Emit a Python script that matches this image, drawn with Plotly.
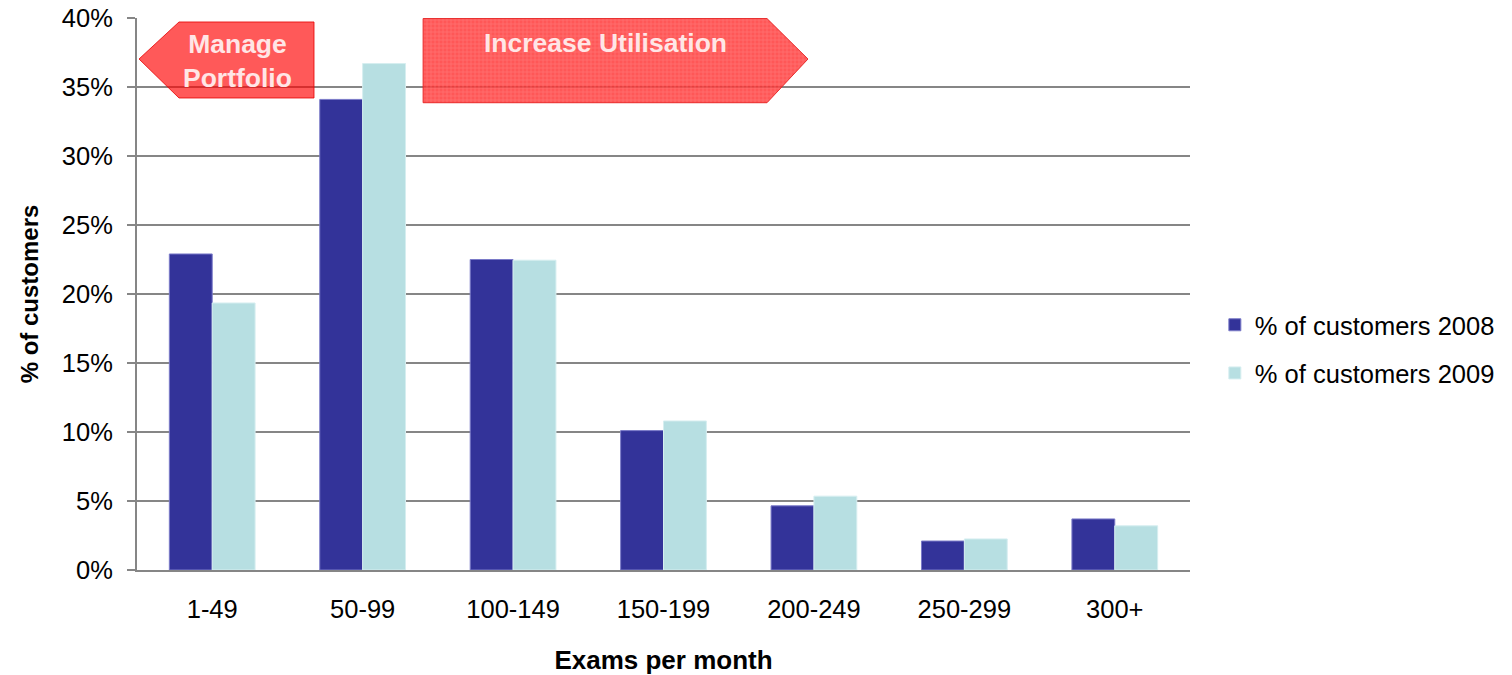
import plotly.graph_objects as go

# Distribution of customers by monthly exam volume
bands = ["1-49", "50-99", "100-149", "150-199", "200-249", "250-299", "300+"]
share_2008 = [22.9, 34.1, 22.5, 10.1, 4.65, 2.1, 3.7]
share_2009 = [19.35, 36.7, 22.45, 10.8, 5.35, 2.25, 3.2]

NAVY = "#333399"
AQUA = "#B7DFE2"
FONT = "Liberation Sans, Arial, sans-serif"

fig = go.Figure()
fig.add_trace(go.Bar(
    x=bands, y=share_2008, name="% of customers 2008",
    marker=dict(color=NAVY, line=dict(color="#7a7ac8", width=1)),
    legendgroup="a",
))
fig.add_trace(go.Bar(
    x=bands, y=share_2009, name="% of customers 2009",
    marker=dict(color=AQUA, line=dict(color="#d6eef0", width=1)),
    legendgroup="b",
))

# Hatched "Increase Utilisation" arrow on an overlay unit axis
arrow_x = [0.2717, 0.5983, 0.6372, 0.5983, 0.2717, 0.2717]
arrow_y = [0.999, 0.999, 0.9257, 0.8465, 0.8465, 0.999]
fig.add_trace(go.Scatter(
    x=arrow_x, y=arrow_y, xaxis="x2", yaxis="y2",
    mode="lines", fill="toself",
    line=dict(color="rgba(230,30,30,0.9)", width=1),
    fillcolor="rgba(255,50,50,0.8)",
    fillpattern=dict(shape="+", size=4, solidity=0.35,
                     fgcolor="rgba(255,150,150,0.8)",
                     bgcolor="rgba(255,45,45,0.8)"),
    showlegend=False, hoverinfo="skip",
))

fig.update_layout(
    width=1512, height=675,
    margin=dict(l=137, r=322, t=18, b=105, autoexpand=False),
    paper_bgcolor="white", plot_bgcolor="white",
    barmode="group", bargap=0.43, bargroupgap=0,
    font=dict(family=FONT, size=25.5, color="#000000"),
    showlegend=True,
    legend=dict(x=1.0236, y=0.40, xanchor="left", yanchor="middle",
                font=dict(size=25.5), tracegroupgap=12,
                bgcolor="rgba(0,0,0,0)"),
    xaxis=dict(
        showgrid=False, showline=True, linecolor="#868686", linewidth=2,
        ticks="", ticklabelstandoff=15, automargin=False,
        title=dict(text="<b>Exams per month</b>", standoff=30,
                   font=dict(size=26)),
    ),
    yaxis=dict(
        range=[0, 40], dtick=5, ticksuffix="%",
        showgrid=True, gridcolor="#868686", gridwidth=1.5,
        showline=True, linecolor="#868686", linewidth=2,
        ticks="outside", ticklen=8, tickcolor="#868686", tickwidth=2,
        ticklabelstandoff=9, automargin=False,
        title=dict(text="<b>% of customers</b>", standoff=16,
                   font=dict(size=24)),
        zeroline=False,
    ),
    xaxis2=dict(range=[0, 1], overlaying="x", visible=False, fixedrange=True),
    yaxis2=dict(range=[0, 1], overlaying="y", visible=False, fixedrange=True),
)

# "Manage Portfolio" left-pointing arrow
fig.add_shape(
    type="path", xref="paper", yref="paper",
    path="M 0.0019 0.9257 L 0.0399 0.9928 L 0.1681 0.9928 "
         "L 0.1681 0.8551 L 0.0399 0.8551 Z",
    fillcolor="rgba(255,0,0,0.65)", line=dict(color="rgba(230,0,0,0.8)", width=1),
    layer="above",
)
fig.add_annotation(
    x=0.0955, y=0.922, xref="paper", yref="paper",
    xanchor="center", yanchor="middle",
    text="<b>Manage<br>Portfolio</b>", showarrow=False,
    font=dict(size=26.5, color="#FFE6E6", family=FONT), align="center",
)
fig.add_annotation(
    x=0.4445, y=0.955, xref="paper", yref="paper",
    xanchor="center", yanchor="middle",
    text="<b>Increase Utilisation</b>", showarrow=False,
    font=dict(size=26.5, color="#FFE6E6", family=FONT),
)

fig.write_html("out.html")
